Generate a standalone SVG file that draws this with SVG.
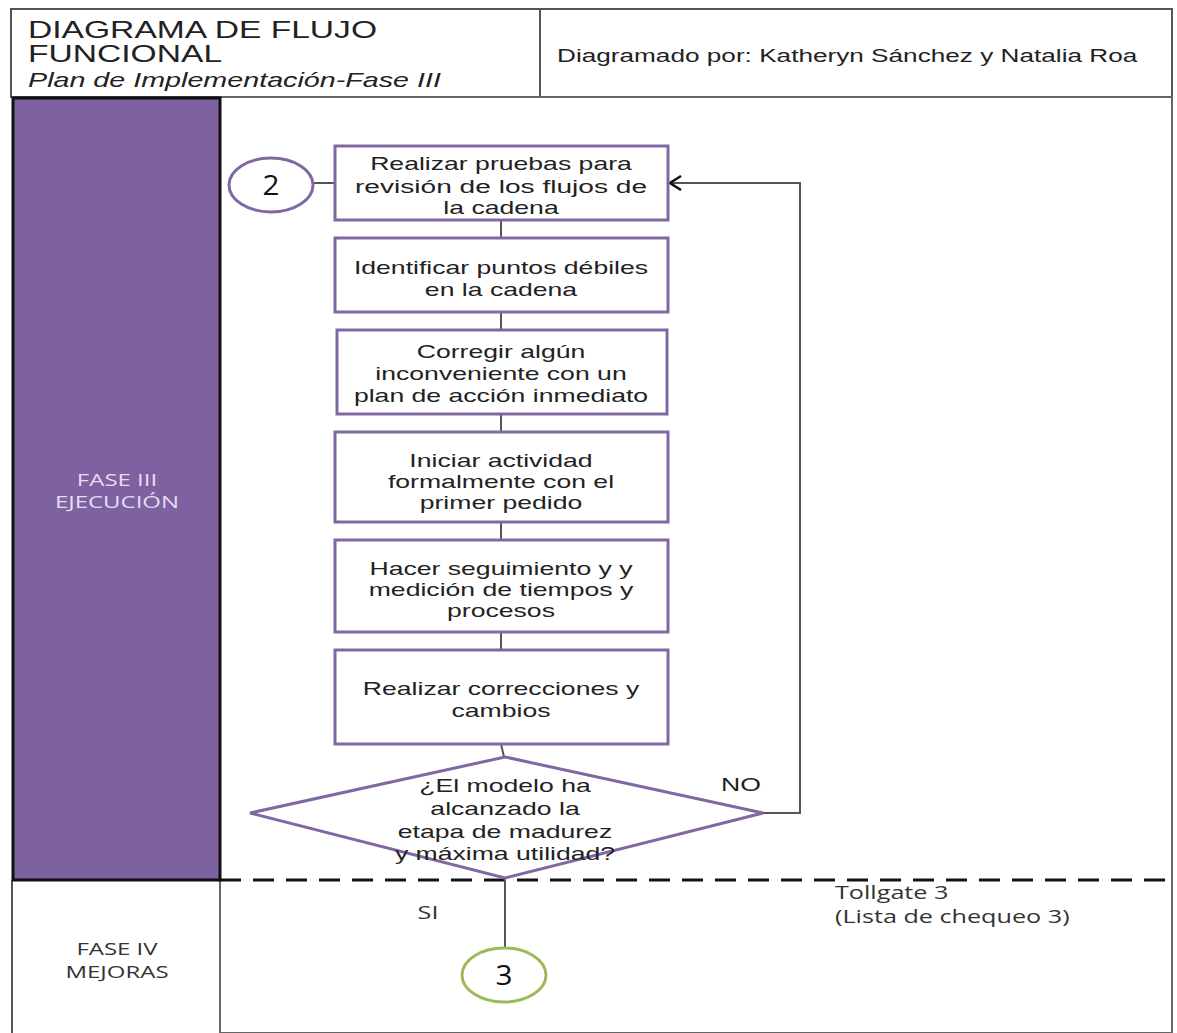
<svg xmlns="http://www.w3.org/2000/svg" width="1177" height="1033" viewBox="0 0 1177 1033">
  <style>
    .frame { fill: #ffffff; stroke: #555555; stroke-width: 2; }
    .step { fill: #ffffff; stroke: #7f68a3; stroke-width: 3; }
    .txt { font-family: "Liberation Sans", Arial, sans-serif; font-size: 19px; fill: #222222; text-anchor: middle; }
    .hdr { font-family: "Liberation Sans", Arial, sans-serif; fill: #222222; }
    .lane { font-family: "Open Sans", "Liberation Sans", sans-serif; font-size: 16px; text-anchor: middle; }
    .conn { fill: none; stroke: #555555; stroke-width: 2; }
    .cal { font-family: "Open Sans", "Liberation Sans", sans-serif; font-size: 18px; fill: #333333; }
    .num { font-family: "Open Sans", "Liberation Sans", sans-serif; font-size: 27px; fill: #111111; text-anchor: middle; }
  </style>
  <defs>
    <marker id="open-arrow" markerWidth="14" markerHeight="16" refX="12" refY="8" orient="auto" markerUnits="userSpaceOnUse">
      <path d="M1,1 L12,8 L1,15" fill="none" stroke="#111111" stroke-width="2.5"/>
    </marker>
  </defs>

  <rect width="1177" height="1033" fill="#ffffff"/>

  <!-- header block; lettering is set wide with a horizontal scale -->
  <g id="header">
    <rect x="11" y="9" width="1161" height="88" class="frame"/>
    <line x1="540" y1="9" x2="540" y2="97" stroke="#555555" stroke-width="2"/>
    <text class="hdr" font-size="24" transform="translate(28 38) scale(1.4 1)">DIAGRAMA DE FLUJO</text>
    <text class="hdr" font-size="24" transform="translate(28 62) scale(1.4 1)">FUNCIONAL</text>
    <text class="hdr" font-size="20.5" font-style="italic" transform="translate(28 87) scale(1.4 1)">Plan de Implementación-Fase III</text>
    <text class="hdr" font-size="18.7" transform="translate(557 62) scale(1.4 1)">Diagramado por: Katheryn Sánchez y Natalia Roa</text>
  </g>

  <!-- swimlanes -->
  <g id="lanes">
    <rect x="220" y="97" width="952" height="936" fill="#ffffff" stroke="#666666" stroke-width="2"/>
    <line x1="12" y1="880" x2="12" y2="1033" stroke="#555555" stroke-width="2"/>
    <line x1="220" y1="880" x2="220" y2="1033" stroke="#666666" stroke-width="2"/>
    <rect x="13" y="98" width="207" height="782" fill="#7e61a0" stroke="#111111" stroke-width="3"/>
    <line x1="220" y1="880" x2="1177" y2="880" stroke="#111111" stroke-width="3" stroke-dasharray="21,12"/>
  </g>

  <g id="lane-fase3">
    <text class="lane" fill="#e6dcf2" transform="translate(117 486) scale(1.5 1)">FASE III</text>
    <text class="lane" fill="#e6dcf2" transform="translate(117 508) scale(1.5 1)">EJECUCIÓN</text>
  </g>
  <g id="lane-fase4">
    <text class="lane" fill="#333333" transform="translate(117 955) scale(1.5 1)">FASE IV</text>
    <text class="lane" fill="#333333" transform="translate(117 978) scale(1.5 1)">MEJORAS</text>
  </g>

  <!-- connectors -->
  <g id="connectors">
    <line x1="312" y1="183" x2="335" y2="183" class="conn"/>
    <line x1="501" y1="220" x2="501" y2="238" class="conn"/>
    <line x1="501" y1="312" x2="501" y2="330" class="conn"/>
    <line x1="501" y1="414" x2="501" y2="432" class="conn"/>
    <line x1="501" y1="522" x2="501" y2="540" class="conn"/>
    <line x1="501" y1="632" x2="501" y2="650" class="conn"/>
    <line x1="501" y1="744" x2="504" y2="757" class="conn"/>
    <polyline points="763,813 800,813 800,183 670,183" class="conn" marker-end="url(#open-arrow)"/>
    <line x1="505" y1="878" x2="505" y2="948" class="conn"/>
  </g>

  <g id="connector-labels">
    <text class="txt" font-size="17" transform="translate(741 791) scale(1.4 1)">NO</text>
    <text class="cal" font-size="16" text-anchor="middle" transform="translate(428 919) scale(1.4 1)">SI</text>
  </g>

  <!-- start connector -->
  <g id="circle-2">
    <ellipse cx="271" cy="185" rx="42" ry="27" fill="#ffffff" stroke="#7f68a3" stroke-width="3"/>
    <text class="num" transform="translate(271 195) scale(1.1 1)">2</text>
  </g>

  <g id="step-1">
    <rect x="335" y="146" width="333" height="74" class="step"/>
    <text class="txt" transform="translate(501 170) scale(1.4 1)">Realizar pruebas para</text>
    <text class="txt" transform="translate(501 193) scale(1.48 1)">revisión de los flujos de</text>
    <text class="txt" transform="translate(501 214) scale(1.4 1)">la cadena</text>
  </g>
  <g id="step-2">
    <rect x="335" y="238" width="333" height="74" class="step"/>
    <text class="txt" transform="translate(501 274) scale(1.4 1)">Identificar puntos débiles</text>
    <text class="txt" transform="translate(501 296) scale(1.4 1)">en la cadena</text>
  </g>
  <g id="step-3">
    <rect x="337" y="330" width="330" height="84" class="step"/>
    <text class="txt" transform="translate(501 358) scale(1.4 1)">Corregir algún</text>
    <text class="txt" transform="translate(501 380) scale(1.4 1)">inconveniente con un</text>
    <text class="txt" transform="translate(501 402) scale(1.4 1)">plan de acción inmediato</text>
  </g>
  <g id="step-4">
    <rect x="335" y="432" width="333" height="90" class="step"/>
    <text class="txt" transform="translate(501 467) scale(1.4 1)">Iniciar actividad</text>
    <text class="txt" transform="translate(501 488) scale(1.4 1)">formalmente con el</text>
    <text class="txt" transform="translate(501 509) scale(1.4 1)">primer pedido</text>
  </g>
  <g id="step-5">
    <rect x="335" y="540" width="333" height="92" class="step"/>
    <text class="txt" transform="translate(501 575) scale(1.4 1)">Hacer seguimiento y y</text>
    <text class="txt" transform="translate(501 596) scale(1.4 1)">medición de tiempos y</text>
    <text class="txt" transform="translate(501 617) scale(1.4 1)">procesos</text>
  </g>
  <g id="step-6">
    <rect x="335" y="650" width="333" height="94" class="step"/>
    <text class="txt" transform="translate(501 695) scale(1.4 1)">Realizar correcciones y</text>
    <text class="txt" transform="translate(501 717) scale(1.4 1)">cambios</text>
  </g>

  <g id="decision">
    <polygon points="250,813 505,757 763,813 505,878" fill="none" stroke="#7f68a3" stroke-width="3"/>
    <text class="txt" transform="translate(505 792) scale(1.4 1)">¿El modelo ha</text>
    <text class="txt" transform="translate(505 815) scale(1.4 1)">alcanzado la</text>
    <text class="txt" transform="translate(505 838) scale(1.4 1)">etapa de madurez</text>
    <text class="txt" transform="translate(505 860) scale(1.4 1)">y máxima utilidad?</text>
  </g>

  <g id="circle-3">
    <ellipse cx="504" cy="975" rx="42" ry="27" fill="#ffffff" stroke="#9bbb59" stroke-width="3"/>
    <text class="num" transform="translate(504 985) scale(1.1 1)">3</text>
  </g>

  <g id="tollgate">
    <text class="cal" transform="translate(835 899) scale(1.4 1)">Tollgate 3</text>
    <text class="cal" transform="translate(835 923) scale(1.4 1)">(Lista de chequeo 3)</text>
  </g>
</svg>
